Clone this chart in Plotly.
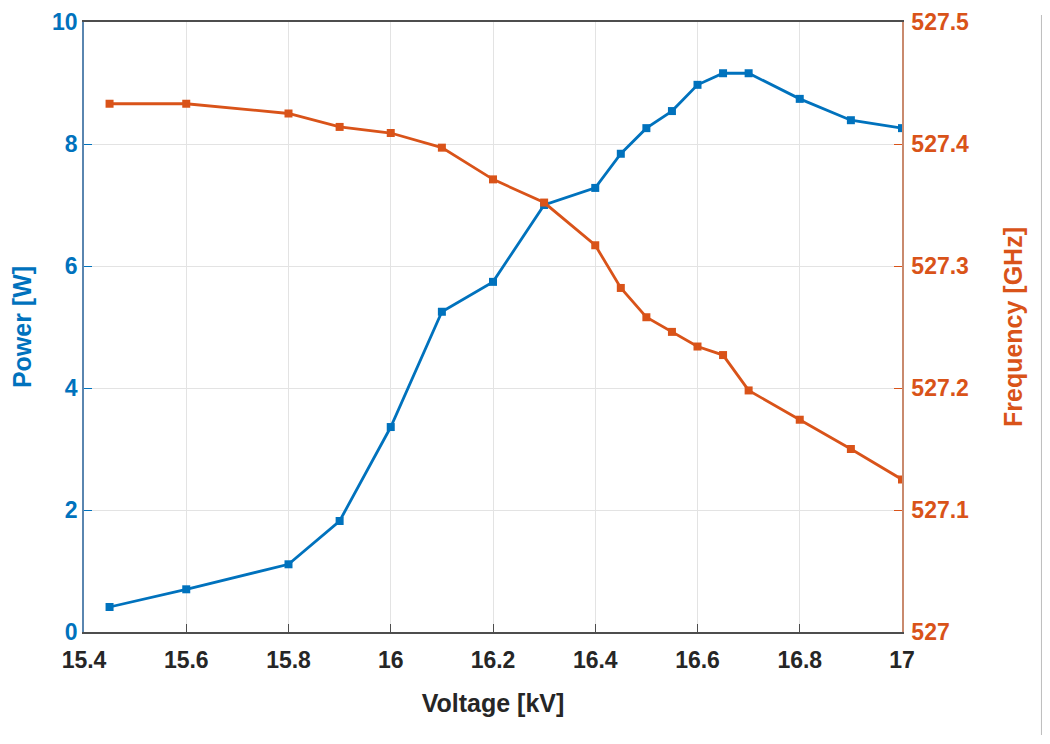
import plotly.graph_objects as go

voltage = [15.45, 15.6, 15.8, 15.9, 16.0, 16.1, 16.2, 16.3, 16.4, 16.45, 16.5, 16.55, 16.6, 16.65, 16.7, 16.8, 16.9, 17.0]
power = [0.41, 0.70, 1.11, 1.82, 3.36, 5.25, 5.74, 7.00, 7.28, 7.84, 8.26, 8.54, 8.97, 9.16, 9.16, 8.74, 8.39, 8.26]
frequency = [527.433, 527.433, 527.425, 527.414, 527.409, 527.397, 527.371, 527.352, 527.317, 527.282,
             527.258, 527.246, 527.234, 527.227, 527.198, 527.174, 527.150, 527.125]

x_ticks = [15.4, 15.6, 15.8, 16.0, 16.2, 16.4, 16.6, 16.8, 17.0]
x_tick_text = ["15.4", "15.6", "15.8", "16", "16.2", "16.4", "16.6", "16.8", "17"]
p_ticks = [0, 2, 4, 6, 8, 10]
f_ticks = [527.0, 527.1, 527.2, 527.3, 527.4, 527.5]
f_tick_text = ["527", "527.1", "527.2", "527.3", "527.4", "527.5"]

BLUE = "#0072BD"
ORANGE = "#D95319"
FONT = "Liberation Sans, Arial, sans-serif"

fig = go.Figure()
fig.add_trace(go.Scatter(x=voltage, y=power, mode="lines+markers", name="Power",
                         line=dict(color=BLUE, width=2.8),
                         marker=dict(symbol="square", size=8, color=BLUE)))
fig.add_trace(go.Scatter(x=voltage, y=frequency, mode="lines+markers", name="Frequency",
                         yaxis="y2",
                         line=dict(color=ORANGE, width=2.8),
                         marker=dict(symbol="square", size=8, color=ORANGE)))

fig.update_layout(
    width=1042, height=736,
    margin=dict(l=76, r=148, t=14, b=112, autoexpand=False),
    paper_bgcolor="white", plot_bgcolor="white",
    showlegend=False,
    font=dict(family=FONT),
    xaxis=dict(
        range=[15.4, 17.0], tickvals=x_ticks, ticktext=x_tick_text,
        showgrid=True, gridcolor="#E3E3E3", gridwidth=1,
        showline=True, linecolor="#4D4D4D", linewidth=1.5, mirror=True,
        ticks="inside", ticklen=8, tickcolor="#4D4D4D",
        ticklabelstandoff=7,
        tickfont=dict(size=23, color="#262626", family=FONT, weight="bold"),
        title=dict(text="Voltage [kV]", font=dict(size=25, color="#262626", family=FONT, weight="bold"),
                   standoff=22),
        zeroline=False, automargin=False,
    ),
    yaxis=dict(
        range=[0, 10], tickvals=p_ticks,
        showgrid=True, gridcolor="#E3E3E3", gridwidth=1,
        showline=True, linecolor="#5A86B0", linewidth=1.5,
        ticks="inside", ticklen=8, tickcolor=BLUE,
        tickfont=dict(size=23, color=BLUE, family=FONT, weight="bold"),
        title=dict(text="Power [W]", font=dict(size=25, color=BLUE, family=FONT, weight="bold"),
                   standoff=14),
        zeroline=False, automargin=False,
    ),
    yaxis2=dict(
        range=[527.0, 527.5], tickvals=f_ticks, ticktext=f_tick_text,
        overlaying="y", side="right", showgrid=False,
        showline=True, linecolor="#C98A6E", linewidth=1.5,
        ticks="inside", ticklen=8, tickcolor=ORANGE,
        ticklabelstandoff=3,
        tickfont=dict(size=23, color=ORANGE, family=FONT, weight="bold"),
        title=dict(text="Frequency [GHz]", font=dict(size=25, color=ORANGE, family=FONT, weight="bold"),
                   standoff=36),
        zeroline=False, automargin=False,
    ),
    shapes=[dict(type="line", xref="paper", yref="paper", x0=1.1711, x1=1.1711, y0=-0.169, y1=1.0115,
                 line=dict(color="#BFBFBF", width=2))],
)

fig.write_html("out.html")
